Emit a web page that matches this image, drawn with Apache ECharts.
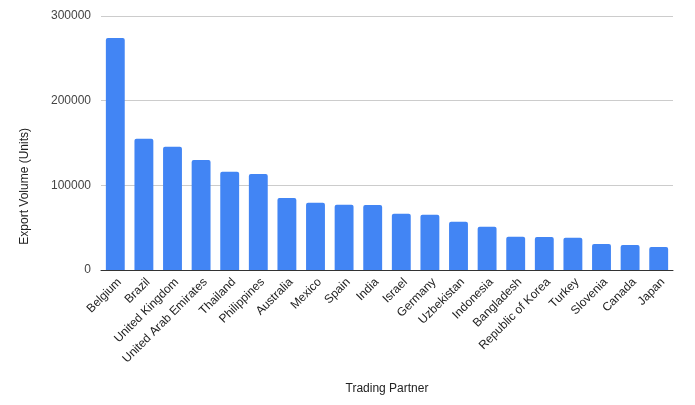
<!DOCTYPE html>
<html>
<head>
<meta charset="utf-8">
<script src="https://cdn.jsdelivr.net/npm/echarts@6/dist/echarts.min.js"></script>
<style>html,body{margin:0;padding:0;background:#fff}#c{width:695px;height:405px}</style>
</head>
<body>
<div id="c"></div>
<script>
const categories = ["Belgium","Brazil","United Kingdom","United Arab Emirates","Thailand","Philippines","Australia","Mexico","Spain","India","Israel","Germany","Uzbekistan","Indonesia","Bangladesh","Republic of Korea","Turkey","Slovenia","Canada","Japan"];
const exportVolume = [274000,155000,145500,130000,116000,113500,85000,79500,77000,76800,66500,65200,57000,51000,39200,39100,38000,30800,29600,27300];
const yTicks = [0,100000,200000,300000];
const xTitle = "Trading Partner";
const yTitle = "Export Volume (Units)";

const chart = echarts.init(document.getElementById('c'), null, {renderer:'canvas'});
chart.setOption({
  animation:false,
  grid:{left:101,right:22,top:16,bottom:135},
  xAxis:{
    type:'category',
    data:categories,
    name:xTitle,
    nameLocation:'middle',
    nameGap:113,
    nameTextStyle:{fontFamily:'Arial, Liberation Sans, sans-serif',fontSize:12,color:'#222'},
    axisLine:{lineStyle:{color:'#333',width:1}},
    axisTick:{show:false},
    axisLabel:{rotate:45,interval:0,margin:6,verticalAlign:'top',fontFamily:'Arial, Liberation Sans, sans-serif',fontSize:12,color:'#222'}
  },
  yAxis:{
    type:'value',
    min:yTicks[0],
    max:yTicks[yTicks.length-1],
    interval:100000,
    axisLine:{show:false},
    axisTick:{show:false},
    splitLine:{lineStyle:{color:'#ccc',width:1}},
    axisLabel:{margin:10,formatter:function(v){return String(v);},fontFamily:'Arial, Liberation Sans, sans-serif',fontSize:12,color:'#444'}
  },
  graphic:[{
    type:'text',
    left:19,
    top:128,
    rotation:Math.PI/2,
    style:{text:yTitle,font:'12px Arial, "Liberation Sans", sans-serif',fill:'#222'}
  }],
  series:[{
    type:'bar',
    data:exportVolume,
    barWidth:'66%',
    itemStyle:{color:'#4285F4',borderRadius:[2,2,0,0]}
  }]
});
</script>
</body>
</html>
